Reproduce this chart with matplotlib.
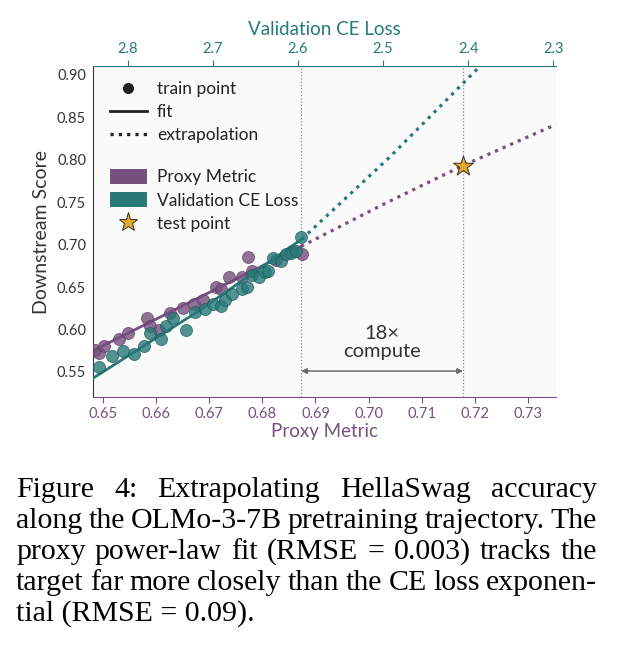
import numpy as np
import matplotlib
matplotlib.use("Agg")
import matplotlib.pyplot as plt
from matplotlib.lines import Line2D
from matplotlib.patches import Patch

plt.rcParams['font.family'] = ['Lato', 'DejaVu Sans']

PURPLE = '#76507f'
TEAL = '#277a78'
GOLD = '#e3a92f'
GRAY = '#333333'

# proxy metric train points (x = proxy metric, y = downstream score)
proxy_x = [0.64855, 0.64917, 0.65011, 0.65308, 0.65464, 0.65828, 0.65892, 0.66049,
           0.66251, 0.66502, 0.66709, 0.66879, 0.67119, 0.67213, 0.67370, 0.67609,
           0.67728, 0.67798, 0.68251, 0.68564, 0.68742]
proxy_y = [0.5758, 0.5719, 0.5805, 0.5884, 0.5962, 0.6132, 0.6041, 0.5994,
           0.6192, 0.6251, 0.6301, 0.6349, 0.6506, 0.6475, 0.6617, 0.6617,
           0.6849, 0.6695, 0.6822, 0.6920, 0.6889]

# validation CE loss train points (x = CE loss, y = downstream score)
loss_x = [2.8346, 2.8189, 2.8059, 2.7927, 2.7815, 2.7736, 2.7618, 2.7555, 2.7471,
          2.7323, 2.7208, 2.7096, 2.7001, 2.6903, 2.6854, 2.6774, 2.6665, 2.6597,
          2.6541, 2.6459, 2.6388, 2.6353, 2.6294, 2.6203, 2.6140, 2.6079, 2.6022,
          2.5961]
loss_y = [0.5553, 0.5687, 0.5752, 0.5710, 0.5805, 0.5962, 0.5884, 0.6041, 0.6132,
          0.5994, 0.6201, 0.6240, 0.6296, 0.6278, 0.6353, 0.6423, 0.6481, 0.6502,
          0.6638, 0.6615, 0.6677, 0.6695, 0.6848, 0.6813, 0.6887, 0.6901, 0.6920,
          0.7093]

# fit curves
proxy_fit_x = [0.6481, 0.6873]
proxy_fit_y = [0.575, 0.6979]
proxy_ext_x = [0.6873, 0.7026, 0.7178, 0.7353]
proxy_ext_y = [0.6979, 0.747, 0.7933, 0.8417]
loss_fit_x = [2.8416, 2.7166, 2.5955]
loss_fit_y = [0.5423, 0.622, 0.7066]
loss_ext_x = [2.5955, 2.4914, 2.3853]
loss_ext_y = [0.7066, 0.804, 0.911]

test_x = 0.7178
test_y = 0.7933
last_train_x = 0.6873

proxy_ticks = [0.65, 0.66, 0.67, 0.68, 0.69, 0.70, 0.71, 0.72, 0.73]
loss_ticks = [2.8, 2.7, 2.6, 2.5, 2.4, 2.3]
score_ticks = [0.55, 0.60, 0.65, 0.70, 0.75, 0.80, 0.85, 0.90]

caption = ["Figure 4:  Extrapolating HellaSwag accuracy",
           "along the OLMo-3-7B pretraining trajectory. The",
           "proxy power-law fit (RMSE = 0.003) tracks the",
           "target far more closely than the CE loss exponen-",
           "tial (RMSE = 0.09)."]

W, H = 618, 646
fig = plt.figure(figsize=(W / 100, H / 100), dpi=100)
ax = fig.add_axes([93 / W, 1 - 397 / H, (556 - 93) / W, (397 - 66) / H])
ax.set_facecolor('#fafafa')
ax.set_xlim(0.6481, 0.7353)
ax.set_ylim(0.5204, 0.9106)

ax2 = ax.twiny()
ax2.set_xlim(2.8412, 2.2966)

# guide lines and arrow
for xv in [last_train_x, test_x]:
    ax.axvline(xv, color='#8a8a8a', ls=':', lw=0.9, zorder=1)
ax.annotate('', xy=(last_train_x, 0.551), xytext=(test_x, 0.551),
            arrowprops=dict(arrowstyle='<|-|>', color='#6a6a6a', lw=1.1,
                            mutation_scale=8, shrinkA=0, shrinkB=0))
ax.text((last_train_x + test_x) / 2, 0.585, '18×\ncompute', ha='center', va='center',
        fontsize=14.5, color=GRAY, linespacing=1.05)

# proxy metric
ax.plot(proxy_fit_x, proxy_fit_y, color=PURPLE, lw=2, zorder=2)
ax.plot(proxy_ext_x, proxy_ext_y, color=PURPLE, lw=2.3, ls=(0, (1.0, 1.6)), zorder=2)
ax.scatter(proxy_x, proxy_y, s=75, color=PURPLE, alpha=0.8, edgecolor='#5e3d66',
           linewidth=0.6, zorder=3)

# validation CE loss
ax2.plot(loss_fit_x, loss_fit_y, color=TEAL, lw=2, zorder=2)
ax2.plot(loss_ext_x, loss_ext_y, color=TEAL, lw=2.3, ls=(0, (1.0, 1.6)), zorder=2)
ax2.scatter(loss_x, loss_y, s=75, color=TEAL, alpha=0.8, edgecolor='#1c5a58',
            linewidth=0.6, zorder=3)

ax.scatter([test_x], [test_y], marker='*', s=230, color=GOLD, edgecolor='#3a3020',
           linewidth=0.7, zorder=5)

# axes styling
ax.set_xticks(proxy_ticks)
ax.set_xticklabels([f'{t:.2f}' for t in proxy_ticks])
ax.set_yticks(score_ticks)
ax.set_yticklabels([f'{t:.2f}' for t in score_ticks])
ax2.set_xticks(loss_ticks)
ax2.set_xticklabels([f'{t:.1f}' for t in loss_ticks])

ax.tick_params(axis='x', colors=PURPLE, labelsize=10.5, length=4, width=0.8, pad=3)
ax.tick_params(axis='y', colors=GRAY, labelsize=10.5, length=0, pad=5)
ax2.tick_params(axis='x', colors=TEAL, labelsize=10.5, length=4, width=0.8, pad=3)

for s in ['top', 'right']:
    ax.spines[s].set_visible(False)
for s in ['left', 'right', 'bottom']:
    ax2.spines[s].set_visible(False)
ax.spines['bottom'].set_color(PURPLE)
ax.spines['left'].set_color(GRAY)
ax2.spines['top'].set_color(TEAL)

ax.set_xlabel('Proxy Metric', color=PURPLE, fontsize=13.5, labelpad=2)
ax.set_ylabel('Downstream Score', color=GRAY, fontsize=14, labelpad=5)
ax2.set_xlabel('Validation CE Loss', color=TEAL, fontsize=13.5, labelpad=5)

# legends
h1 = [Line2D([], [], marker='o', color='#222222', ls='none', markersize=7),
      Line2D([], [], color='#222222', lw=2),
      Line2D([], [], color='#222222', lw=2.3, ls=(0, (1.0, 1.6)))]
leg1 = ax2.legend(h1, ['train point', 'fit', 'extrapolation'], loc='upper left',
                  bbox_to_anchor=(0.011, 0.99), frameon=False, fontsize=12.5,
                  handlelength=2.1, handletextpad=0.6, labelspacing=0.4,
                  borderaxespad=0.3, labelcolor='#222222')
ax2.add_artist(leg1)
h2 = [Patch(facecolor=PURPLE), Patch(facecolor=TEAL),
      Line2D([], [], marker='*', color=GOLD, markeredgecolor='#3a3020', ls='none',
             markersize=14, markeredgewidth=0.7)]
ax2.legend(h2, ['Proxy Metric', 'Validation CE Loss', 'test point'], loc='upper left',
           bbox_to_anchor=(0.011, 0.725), frameon=False, fontsize=12.5,
           handlelength=2.1, handleheight=0.9, handletextpad=0.6, labelspacing=0.4,
           borderaxespad=0.3, labelcolor='#222222')

# caption, justified like the paper text
cap_font = dict(family='Liberation Serif', fontsize=21.5, color='black')
left_px, right_px = 16, 597
baselines = [497 + 31 * i for i in range(len(caption))]
fig.canvas.draw()
renderer = fig.canvas.get_renderer()


def width_px(s):
    t = fig.text(0, 0, s, **cap_font)
    w = t.get_window_extent(renderer=renderer).width
    t.remove()
    return w


for i, line in enumerate(caption):
    yb = 1 - baselines[i] / H
    if i == len(caption) - 1:
        fig.text(left_px / W, yb, line, va='baseline', ha='left', **cap_font)
        continue
    words = line.split()
    widths = [width_px(w) for w in words]
    gap = (right_px - left_px - sum(widths)) / (len(words) - 1)
    x = left_px
    for w, wd in zip(words, widths):
        fig.text(x / W, yb, w, va='baseline', ha='left', **cap_font)
        x += wd + gap

fig.savefig('out.png', dpi=100)
